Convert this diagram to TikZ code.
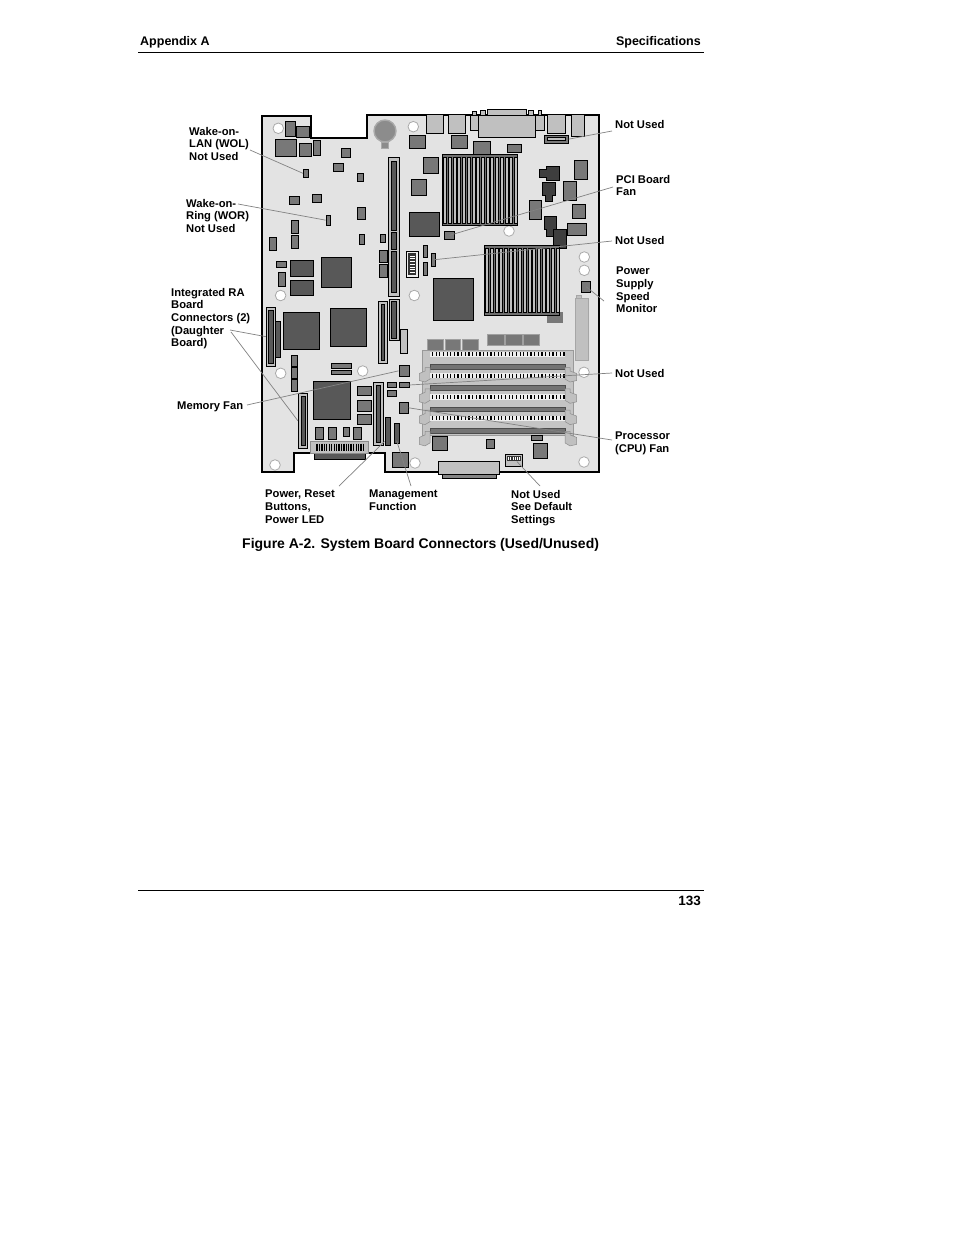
\documentclass[tikz,border=0pt]{standalone}
\usepackage{fontspec}
\setmainfont{Liberation Sans}
\usetikzlibrary{calc}
\definecolor{boardgray}{RGB}{227,227,227}
\definecolor{cgray}{RGB}{120,120,120}
\definecolor{dgray}{RGB}{88,88,88}
\definecolor{lgray}{RGB}{192,192,192}
\definecolor{fangray}{RGB}{62,62,62}
\definecolor{leadgray}{RGB}{130,130,130}
\definecolor{holeline}{RGB}{170,170,170}
\definecolor{slotgray}{RGB}{196,196,196}
\definecolor{combwhite}{RGB}{238,238,238}
\definecolor{sinkbase}{RGB}{110,110,110}
\definecolor{finfill}{RGB}{190,190,190}
\begin{document}
\begin{tikzpicture}[x=1pt,y=-1pt,
  chip/.style={draw=black,line width=0.8pt,fill=cgray},
  dchip/.style={draw=black,line width=0.8pt,fill=dgray},
  lconn/.style={draw=black,line width=0.8pt,fill=lgray},
  inner/.style={draw=black,line width=0.5pt,fill=dgray},
  fanpart/.style={draw=black,line width=0.8pt,fill=fangray},
  soft/.style={fill=cgray,draw=cgray!70!white,line width=0.4pt},
  hole/.style={draw=holeline,line width=0.8pt,fill=white},
  leader/.style={draw=leadgray,line width=0.7pt},
  lbl/.style={font=\fontsize{11.2}{12.6}\selectfont\bfseries,anchor=north west,inner sep=0pt,align=left},
  tbox/.style 2 args={rectangle,inner sep=0pt,minimum width=#1pt,minimum height=#2pt},
  latch/.style={fill=lgray,draw=black!45,line width=0.5pt},
]
\useasboundingbox (0,0) rectangle (954,1235);
\fill[white] (0,0) rectangle (954,1235);

% ---------- header / footer ----------
\node[font=\fontsize{12.5}{15}\selectfont\bfseries,anchor=base west,inner sep=0pt] (hdrL) at (140,45) {Appendix A};
\node[font=\fontsize{12.5}{15}\selectfont\bfseries,anchor=base east,inner sep=0pt] (hdrR) at (701,45) {Specifications};
\draw[line width=1pt] (138,52) -- (704,52);
\draw[line width=1pt] (138,890) -- (704,890);
\node[font=\fontsize{13.5}{16}\selectfont\bfseries,anchor=base east,inner sep=0pt] (pageno) at (701,905) {133};
\node[font=\fontsize{14}{16}\selectfont\bfseries,anchor=base west,inner sep=0pt] (caption) at (242,548) {Figure A-2. System Board Connectors (Used/Unused)};

% ---------- board outline ----------
\draw[fill=boardgray,line width=1.2pt,line join=miter]
  (262,116) -- (311,116) -- (311,138) -- (367,138) -- (367,115) -- (599,115)
  -- (599,472) -- (385,472) -- (385,453) -- (294,453) -- (294,472) -- (262,472) -- cycle;

% ---------- mounting holes ----------
\foreach \hx/\hy in {278.3/128.3, 413.3/126.7, 509/231, 584.3/257, 584.3/270.3,
  280.6/295.5, 414.3/295.5, 280.7/373.3, 362.7/371, 584/372.3, 275/465, 415/463, 584/462}
  \draw[hole] (\hx,\hy) circle (5.3);

% ---------- battery ----------
\draw[fill=cgray!85!white,draw=holeline,line width=0.8pt] (381.7,142) rectangle (388.3,148.3);
\draw[fill=cgray!85!white,draw=holeline,line width=1.4pt] (385,131) circle (11);

% ---------- top-left area ----------
\path[chip] (285.7,121) rectangle (295,136.7);
\path[chip] (296.7,126) rectangle (309.3,137.3);
\path[chip] (275,139.3) rectangle (296.7,156.7);
\path[chip] (299,143.3) rectangle (311.7,156.7);
\path[chip] (313.3,140) rectangle (320.3,155.7);
\path[chip] (341,148.3) rectangle (350.7,157.3);
\path[chip] (333.3,163.3) rectangle (343.7,171.3);
\node[chip,tbox={5.4}{8}] (wol) at (306,173.3) {};
\path[chip] (357.3,173.3) rectangle (363.3,181.3);
\path[chip] (289.3,196) rectangle (299.3,204.3);
\path[chip] (312.3,194) rectangle (321.7,202.7);
\node[chip,tbox={4.7}{10.3}] (wor) at (328.35,220.15) {};
\path[chip] (357.3,207.3) rectangle (365.3,219.3);
\path[chip] (291,220.3) rectangle (298.3,233.3);
\path[chip] (291,235) rectangle (298.3,248.3);
\path[chip] (269.3,237) rectangle (276.7,250.7);
\path[chip] (359.3,234) rectangle (364.3,244.3);
\path[chip] (380,234) rectangle (385.3,242.3);
\path[chip] (379.3,250) rectangle (387.7,262.7);
\path[chip] (379.3,264) rectangle (387.7,277.3);
\path[chip] (276.7,261) rectangle (286.7,267.7);
\path[chip] (278.3,272.7) rectangle (285.7,286.7);
\path[dchip] (290,260) rectangle (313.3,276);
\path[dchip] (290,280) rectangle (313.3,295);
\path[dchip] (321,257) rectangle (351.7,287.7);

% long vertical connector
\path[lconn] (388.3,157.3) rectangle (399.3,296);
\path[inner] (391.3,161) rectangle (396,230.7);
\path[inner] (391.3,232.3) rectangle (396,249.3);
\path[inner] (391.3,251) rectangle (396,292.7);

% comb connector
\path[draw=black,line width=0.8pt,fill=combwhite] (406,251) rectangle (418.7,277.3);
\path[fill=black!80] (408.3,253.3) rectangle (416,275);
\foreach \k in {0,...,6} \draw[white,line width=0.9pt] (409.8,{256+\k*2.75}) -- (415,{256+\k*2.75});

\path[chip] (423.3,245) rectangle (427.7,257.3);
\path[chip] (423.3,262.3) rectangle (427.7,275.3);
\node[chip,tbox={4.7}{13}] (nuB) at (433.35,259.8) {};

\path[dchip] (409.3,212) rectangle (439.3,236.3);
\path[chip] (411.3,179.3) rectangle (426.3,195.7);
\path[chip] (423.3,157.3) rectangle (438.3,173.3);
\path[chip] (409,135) rectangle (425.7,148.3);

% ---------- top rear connectors ----------
\path[lconn] (426.7,114.3) rectangle (443.3,133.3);
\path[lconn] (448.3,114.3) rectangle (465.3,133.3);
\path[lconn] (472.3,111.5) rectangle (476.7,115);
\path[lconn] (480,110) rectangle (485.7,115);
\path[lconn] (528.3,110) rectangle (533.3,115);
\path[lconn] (538.3,110.5) rectangle (541.7,115);
\path[lconn] (487.3,109.5) rectangle (526.7,115);
\path[lconn] (470,115) rectangle (544,130);
\path[lconn] (478.3,115) rectangle (535.7,137.3);
\path[lconn] (547.3,114.3) rectangle (565.7,133.3);
\path[lconn] (571,114.3) rectangle (584.3,136.7);
\node[chip,tbox={24}{8.3}] (nuA) at (556.3,139.15) {};
\path[draw=black,line width=0.5pt,fill=lgray] (547,137.6) rectangle (565.6,140.6);

\path[chip] (451.7,135) rectangle (467.3,148.3);
\path[chip] (473.3,141) rectangle (490.7,154);
\path[chip] (507.3,144.3) rectangle (521.7,152.3);

% ---------- heatsink 1 ----------
\path[draw=black,line width=0.9pt,fill=sinkbase] (442.3,154.3) rectangle (517.7,225.7);
\foreach \k in {0,...,15}
  \path[draw=black,line width=0.5pt,fill=finfill] ({443.6+\k*4.71},157) rectangle ({446.6+\k*4.71},223);

\node[chip,tbox={10.7}{8.7}] (pci) at (449.35,235.35) {};

% ---------- dark fan parts ----------
\path[fanpart] (539.3,169.3) -- (546.7,169.3) -- (546.7,166.7) -- (559.3,166.7) -- (559.3,180)
  -- (546.7,180) -- (546.7,177.7) -- (539.3,177.7) -- cycle;
\path[fanpart] (542.3,182.3) -- (555.7,182.3) -- (555.7,195) -- (552.3,195) -- (552.3,201.7)
  -- (545.7,201.7) -- (545.7,195) -- (542.3,195) -- cycle;
\path[fanpart] (553.3,229.3) rectangle (566.7,248.3);
\path[fanpart] (544,216) -- (556.7,216) -- (556.7,229.3) -- (553.3,229.3) -- (553.3,236)
  -- (546.7,236) -- (546.7,229.3) -- (544,229.3) -- cycle;

\path[chip] (574.3,160) rectangle (587.3,179.3);
\path[chip] (563.3,181.3) rectangle (576.7,200.7);
\path[chip] (529.3,200.3) rectangle (541.3,219.7);
\path[chip] (572.3,204.3) rectangle (585.7,218.3);
\path[chip] (567.3,223) rectangle (586.7,235.7);

\node[chip,tbox={9.4}{11.3}] (psm) at (586,286.65) {};

% ---------- heatsink 2 ----------
\path[fill=cgray] (546.7,311.7) rectangle (563.3,322.7);
\path[draw=black,line width=0.9pt,fill=sinkbase] (484.3,245) rectangle (559.3,315.3);
\foreach \k in {0,...,15}
  \path[draw=black,line width=0.5pt,fill=finfill] ({485.6+\k*4.69},248) rectangle ({488.6+\k*4.69},312.3);

\path[dchip] (433.3,278.3) rectangle (473.3,320);

% light vertical connector (right)
\path[fill=lgray,draw=black!35,line width=0.5pt] (576.7,295.5) rectangle (581.7,300);
\path[fill=lgray,draw=black!35,line width=0.5pt] (575,298) rectangle (588.7,360);

% chips above DIMMs
\foreach \a/\b in {427.3/442.7, 445/460.3, 462.3/478}
  \path[soft] (\a,339.3) rectangle (\b,350);
\foreach \a/\b in {487.3/504, 505.3/521.7, 523.3/539}
  \path[soft] (\a,334.3) rectangle (\b,345);

% ---------- DIMM slots ----------
\path[fill=slotgray,draw=black!40,line width=0.6pt] (422.5,350) rectangle (573.5,435);
\foreach \s in {0,1,2,3} {
  \pgfmathsetmacro{\dy}{\s*21.3}
  \path[fill=combwhite] (430,{351.7+\dy}) rectangle (565,{356.9+\dy});
  \foreach \k in {0,...,36}
    \draw[black,line width=1.2pt] ({432.5+\k*3.65},{352.4+\dy}) -- ++(0,4);
  \path[fill=black!55,draw=black!70,line width=0.5pt] (430,{364.3+\dy}) rectangle (565,{368.9+\dy});
  \path[latch] (430,{367.5+\dy}) -- (425,{367.5+\dy}) -- (425,{371+\dy}) -- (419.3,{373.5+\dy})
     -- (419.3,{380.5+\dy}) -- (425,{382+\dy}) -- (430,{379+\dy}) -- cycle;
  \path[latch] (565,{367.5+\dy}) -- (570,{367.5+\dy}) -- (570,{371+\dy}) -- (576.7,{373.5+\dy})
     -- (576.7,{380.5+\dy}) -- (570,{382+\dy}) -- (565,{379+\dy}) -- cycle;
}

% ---------- bottom right ----------
\path[chip] (432.3,436) rectangle (447.7,450.7);
\path[chip] (486.7,439.3) rectangle (494.3,448.3);
\path[chip] (531,435.3) rectangle (542.7,440.7);
\path[chip] (533.3,443.3) rectangle (547.7,458.3);
\node[draw=black,line width=0.8pt,fill=lgray,tbox={17.7}{12.4}] (dip) at (513.85,460.5) {};
\path[fill=black!80] (506.8,456) rectangle (521,461);
\foreach \k in {0,...,5} \draw[white,line width=0.8pt] ({508.6+\k*2.2},456.8) -- ++(0,3.6);
\path[draw=black,line width=0.8pt,fill=cgray!90!white] (442.3,474) rectangle (496.7,478.3);
\path[lconn] (438.3,461.7) rectangle (499.3,474);

% ---------- lower left area ----------
\node[lconn,tbox={9.4}{58.7}] (raA) at (271,336.65) {};
\path[inner] (268.7,310) rectangle (273.3,363.3);
\path[dchip] (275.7,321.7) rectangle (280.7,357.3);
\path[dchip] (283.3,312.3) rectangle (319.3,349.3);
\path[dchip] (330,308.3) rectangle (366.7,346.7);
\path[lconn] (378.3,301) rectangle (387.7,363.3);
\path[inner] (381.3,304) rectangle (384.7,360.3);
\path[lconn] (389.3,299) rectangle (399,340.7);
\path[inner] (391.7,301.7) rectangle (396.7,338);
\path[draw=black,line width=0.8pt,fill=lgray] (400.3,329) rectangle (407.7,353.3);
\path[chip] (291,355) rectangle (297.7,366);
\path[chip] (291,367.3) rectangle (297.7,378.3);
\path[chip] (291,379.6) rectangle (297.7,391.7);
\path[chip] (331,363.3) rectangle (351.7,368.3);
\path[chip] (331,370) rectangle (351.7,374.3);
\node[chip,tbox={10}{11.7}] (memfan) at (404,370.85) {};
\path[dchip] (313.3,381) rectangle (350.7,419.3);
\path[chip] (357.3,386) rectangle (371.7,395);
\path[chip] (357.3,400.3) rectangle (371.7,411);
\path[chip] (357.3,414.3) rectangle (371.7,424.3);
\node[lconn,tbox={9.4}{55}] (raB) at (303,420.8) {};
\path[inner] (301,396) rectangle (305,445.7);
\path[lconn] (373.3,382.3) rectangle (383.3,445);
\path[inner] (376,385) rectangle (380.7,442.3);
\path[chip] (387.3,382.7) rectangle (396,387.3);
\node[chip,tbox={10}{4.6}] (nuC) at (404,385) {};
\path[chip] (387.3,390.3) rectangle (396.7,396);
\node[chip,tbox={9.3}{11}] (cpufan) at (403.65,407.8) {};
\node[dchip,tbox={5.7}{27.7}] (pwr) at (387.85,431.15) {};
\node[dchip,tbox={5.3}{20}] (mgmt) at (396.65,433.3) {};
\path[chip] (315,427.3) rectangle (323.3,439);
\path[chip] (328.3,427.3) rectangle (336.7,439);
\path[chip] (343.3,427.3) rectangle (349.3,436.7);
\path[chip] (353.3,427.3) rectangle (361.7,439);
\path[dchip] (314.3,453.3) rectangle (365.7,459);
\path[fill=lgray,draw=black!45,line width=0.6pt] (310,441.7) rectangle (368.3,453.3);
\foreach \bx/\bw in {317/1.2, 319.5/1.2, 322/1.2, 324.3/0.8, 326.5/1.6, 329.2/1.2, 331.6/1.2, 334/0.8,
  336.4/1.2, 338.8/1.6, 341.6/1.2, 344/1.2, 346.3/0.8, 348.6/1.2, 351/1.6, 353.8/1.2, 356.2/1.2,
  358.5/0.8, 360.8/1.6, 363.2/1.2}
  \draw[black,line width=\bw pt] (\bx,443.5) -- (\bx,450.5);
\path[chip] (392.7,452.7) rectangle (408.3,467.7);

% ---------- labels ----------
\node[lbl] (wolT) at (189,127) {Wake-on-\\LAN (WOL)\\Not Used};
\node[lbl] (worT) at (186,199) {Wake-on-\\Ring (WOR)\\Not Used};
\node[lbl] (raT) at (171,288) {Integrated RA\\Board\\Connectors (2)\\(Daughter\\Board)};
\node[lbl] (memT) at (177,402) {Memory Fan};
\node[lbl] (nuAT) at (615,120) {Not Used};
\node[lbl] (pciT) at (616,175) {PCI Board\\Fan};
\node[lbl] (nuBT) at (615,236) {Not Used};
\node[lbl] (psmT) at (616,267) {Power\\Supply\\Speed\\Monitor};
\node[lbl] (nuCT) at (615,369) {Not Used};
\node[lbl] (cpuT) at (615,432) {Processor\\(CPU) Fan};
\node[lbl] (pwrT) at (265,490) {Power, Reset\\Buttons,\\Power LED};
\node[lbl] (mgmtT) at (369,490) {Management\\Function};
\node[lbl] (dipT) at (511,490) {Not Used\\See Default\\Settings};

% ---------- leader lines ----------
\coordinate (wolL) at (250,150);
\coordinate (worL) at (238,204);
\coordinate (raL1) at (230,330);
\coordinate (raL2) at (231,332);
\coordinate (memL) at (247,405);
\coordinate (nuAL) at (612,131);
\coordinate (pciL) at (613,187);
\coordinate (nuBL) at (612,241);
\coordinate (psmL) at (604,301);
\coordinate (nuCL) at (612,373);
\coordinate (cpuL) at (612,440);
\coordinate (pwrL) at (339,486);
\coordinate (mgmtL) at (411,486);
\coordinate (dipL) at (540,486);

\draw[leader] (wolL) -- (wol.west);
\draw[leader] (worL) -- (wor.west);
\draw[leader] (raL1) -- (raA.west);
\draw[leader] (raL2) -- (raB.west);
\draw[leader] (memL) -- (memfan.west);
\draw[leader] (nuAL) -- (nuA.east);
\draw[leader] (pciL) -- (pci.center);
\draw[leader] (nuBL) -- (nuB.center);
\draw[leader] (psmL) -- (psm.center);
\draw[leader] (nuCL) -- (nuC.east);
\draw[leader] (cpuL) -- (cpufan.east);
\draw[leader] (pwrL) -- ($(pwr.south west)+(0,-4)$);
\draw[leader] (mgmtL) -- ($(mgmt.south)+(0,-3)$);
\draw[leader] (dipL) -- ($(dip.center)+(3,1)$);
\end{tikzpicture}
\end{document}
